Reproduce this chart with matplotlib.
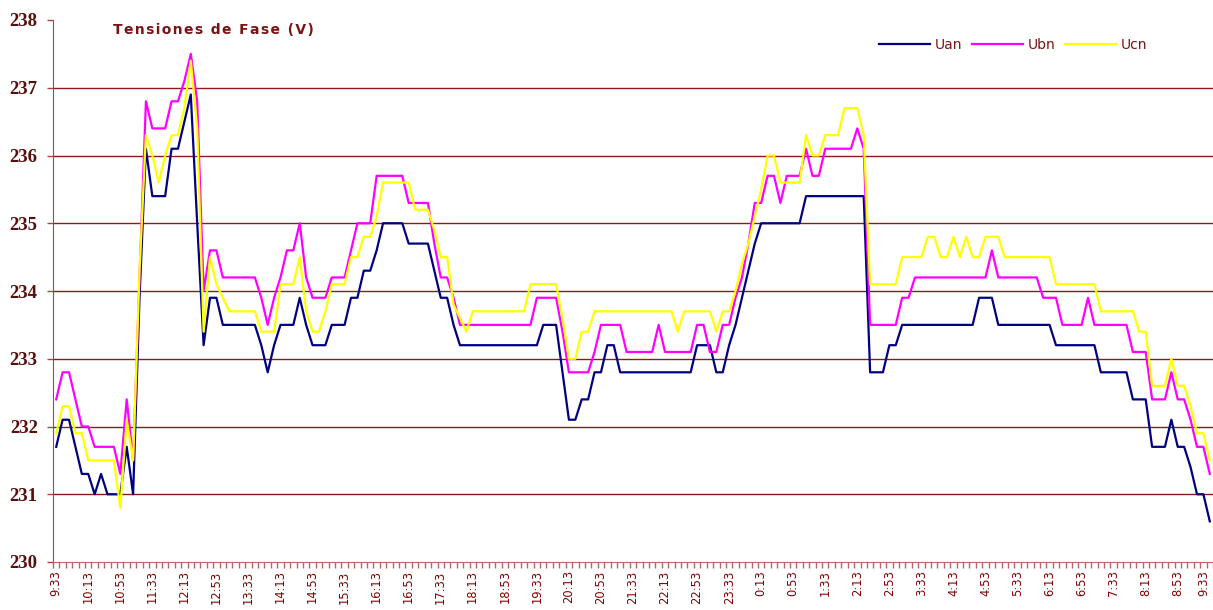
import matplotlib
matplotlib.use("Agg")
import matplotlib.pyplot as plt
import numpy as np

# time labels every 40 min (readings every 8 min -> 5 readings per label)
tick_labels = ["9:33", "10:13", "10:53", "11:33", "12:13", "12:53", "13:33", "14:13",
               "14:53", "15:33", "16:13", "16:53", "17:33", "18:13", "18:53", "19:33",
               "20:13", "20:53", "21:33", "22:13", "22:53", "23:33", "0:13", "0:53",
               "1:33", "2:13", "2:53", "3:33", "4:13", "4:53", "5:33", "6:13", "6:53",
               "7:33", "8:13", "8:53", "9:33"]

uan = [231.7, 232.1, 232.1, 231.7, 231.3, 231.3, 231.0, 231.3, 231.0, 231.0,
       231.0, 231.7, 231.0, 233.9, 236.1, 235.4, 235.4, 235.4, 236.1, 236.1,
       236.5, 236.9, 235.0, 233.2, 233.9, 233.9, 233.5, 233.5, 233.5, 233.5,
       233.5, 233.5, 233.2, 232.8, 233.2, 233.5, 233.5, 233.5, 233.9, 233.5,
       233.2, 233.2, 233.2, 233.5, 233.5, 233.5, 233.9, 233.9, 234.3, 234.3,
       234.6, 235.0, 235.0, 235.0, 235.0, 234.7, 234.7, 234.7, 234.7, 234.3,
       233.9, 233.9, 233.5, 233.2, 233.2, 233.2, 233.2, 233.2, 233.2, 233.2,
       233.2, 233.2, 233.2, 233.2, 233.2, 233.2, 233.5, 233.5, 233.5, 232.8,
       232.1, 232.1, 232.4, 232.4, 232.8, 232.8, 233.2, 233.2, 232.8, 232.8,
       232.8, 232.8, 232.8, 232.8, 232.8, 232.8, 232.8, 232.8, 232.8, 232.8,
       233.2, 233.2, 233.2, 232.8, 232.8, 233.2, 233.5, 233.9, 234.3, 234.7,
       235.0, 235.0, 235.0, 235.0, 235.0, 235.0, 235.0, 235.4, 235.4, 235.4,
       235.4, 235.4, 235.4, 235.4, 235.4, 235.4, 235.4, 232.8, 232.8, 232.8,
       233.2, 233.2, 233.5, 233.5, 233.5, 233.5, 233.5, 233.5, 233.5, 233.5,
       233.5, 233.5, 233.5, 233.5, 233.9, 233.9, 233.9, 233.5, 233.5, 233.5,
       233.5, 233.5, 233.5, 233.5, 233.5, 233.5, 233.2, 233.2, 233.2, 233.2,
       233.2, 233.2, 233.2, 232.8, 232.8, 232.8, 232.8, 232.8, 232.4, 232.4,
       232.4, 231.7, 231.7, 231.7, 232.1, 231.7, 231.7, 231.4, 231.0, 231.0,
       230.6]

ubn = [232.4, 232.8, 232.8, 232.4, 232.0, 232.0, 231.7, 231.7, 231.7, 231.7,
       231.3, 232.4, 231.5, 234.2, 236.8, 236.4, 236.4, 236.4, 236.8, 236.8,
       237.1, 237.5, 236.8, 234.0, 234.6, 234.6, 234.2, 234.2, 234.2, 234.2,
       234.2, 234.2, 233.9, 233.5, 233.9, 234.2, 234.6, 234.6, 235.0, 234.2,
       233.9, 233.9, 233.9, 234.2, 234.2, 234.2, 234.6, 235.0, 235.0, 235.0,
       235.7, 235.7, 235.7, 235.7, 235.7, 235.3, 235.3, 235.3, 235.3, 234.7,
       234.2, 234.2, 233.9, 233.5, 233.5, 233.5, 233.5, 233.5, 233.5, 233.5,
       233.5, 233.5, 233.5, 233.5, 233.5, 233.9, 233.9, 233.9, 233.9, 233.4,
       232.8, 232.8, 232.8, 232.8, 233.1, 233.5, 233.5, 233.5, 233.5, 233.1,
       233.1, 233.1, 233.1, 233.1, 233.5, 233.1, 233.1, 233.1, 233.1, 233.1,
       233.5, 233.5, 233.1, 233.1, 233.5, 233.5, 233.9, 234.2, 234.7, 235.3,
       235.3, 235.7, 235.7, 235.3, 235.7, 235.7, 235.7, 236.1, 235.7, 235.7,
       236.1, 236.1, 236.1, 236.1, 236.1, 236.4, 236.1, 233.5, 233.5, 233.5,
       233.5, 233.5, 233.9, 233.9, 234.2, 234.2, 234.2, 234.2, 234.2, 234.2,
       234.2, 234.2, 234.2, 234.2, 234.2, 234.2, 234.6, 234.2, 234.2, 234.2,
       234.2, 234.2, 234.2, 234.2, 233.9, 233.9, 233.9, 233.5, 233.5, 233.5,
       233.5, 233.9, 233.5, 233.5, 233.5, 233.5, 233.5, 233.5, 233.1, 233.1,
       233.1, 232.4, 232.4, 232.4, 232.8, 232.4, 232.4, 232.1, 231.7, 231.7,
       231.3]

ucn = [231.9, 232.3, 232.3, 231.9, 231.9, 231.5, 231.5, 231.5, 231.5, 231.5,
       230.8, 232.1, 231.5, 234.3, 236.3, 236.0, 235.6, 236.0, 236.3, 236.3,
       236.7, 237.4, 236.4, 233.4, 234.5, 234.1, 233.9, 233.7, 233.7, 233.7,
       233.7, 233.7, 233.4, 233.4, 233.4, 234.1, 234.1, 234.1, 234.5, 233.7,
       233.4, 233.4, 233.7, 234.1, 234.1, 234.1, 234.5, 234.5, 234.8, 234.8,
       235.1, 235.6, 235.6, 235.6, 235.6, 235.6, 235.2, 235.2, 235.2, 234.9,
       234.5, 234.5, 233.8, 233.6, 233.4, 233.7, 233.7, 233.7, 233.7, 233.7,
       233.7, 233.7, 233.7, 233.7, 234.1, 234.1, 234.1, 234.1, 234.1, 233.6,
       233.0, 233.0, 233.4, 233.4, 233.7, 233.7, 233.7, 233.7, 233.7, 233.7,
       233.7, 233.7, 233.7, 233.7, 233.7, 233.7, 233.7, 233.4, 233.7, 233.7,
       233.7, 233.7, 233.7, 233.4, 233.7, 233.7, 234.0, 234.4, 234.7, 235.1,
       235.5, 236.0, 236.0, 235.6, 235.6, 235.6, 235.6, 236.3, 236.0, 236.0,
       236.3, 236.3, 236.3, 236.7, 236.7, 236.7, 236.3, 234.1, 234.1, 234.1,
       234.1, 234.1, 234.5, 234.5, 234.5, 234.5, 234.8, 234.8, 234.5, 234.5,
       234.8, 234.5, 234.8, 234.5, 234.5, 234.8, 234.8, 234.8, 234.5, 234.5,
       234.5, 234.5, 234.5, 234.5, 234.5, 234.5, 234.1, 234.1, 234.1, 234.1,
       234.1, 234.1, 234.1, 233.7, 233.7, 233.7, 233.7, 233.7, 233.7, 233.4,
       233.4, 232.6, 232.6, 232.6, 233.0, 232.6, 232.6, 232.3, 231.9, 231.9,
       231.5]

dark_red = "#7a1414"
grid_red = "#8b1a1a"

fig = plt.figure(figsize=(12.13, 6.10), dpi=100)
ax = fig.add_axes([53 / 1213, 48 / 610, 1160 / 1213, 542 / 610])

x = np.arange(len(uan))
ax.plot(x, uan, color="#000080", lw=1.6, label="Uan")
ax.plot(x, ubn, color="#ff00ff", lw=1.6, label="Ubn")
ax.plot(x, ucn, color="#ffff00", lw=1.6, label="Ucn")

ax.set_xlim(-0.5, len(uan) - 0.5)
ax.set_ylim(230, 238)

for v in range(231, 238):
    ax.axhline(v, color=grid_red, lw=1, zorder=0)

ax.set_yticks(range(230, 239))
ax.set_yticklabels([str(v) for v in range(230, 239)], fontfamily="Liberation Serif",
                   fontweight="bold", fontsize=13.5, color="#5a0f0f")
ax.tick_params(axis="y", length=4, width=1, color="#9b4a4a", pad=7)

ax.set_xticks(np.arange(0, len(uan), 5))
xlabels = ax.set_xticklabels(tick_labels, rotation=90, fontsize=8.3, color="#800000",
                             va="top", ha="center")
xlabels[-1].set_ha("right")  # keep the last label inside the figure
ax.set_xticks(np.arange(-0.5, len(uan), 1), minor=True)
ax.tick_params(axis="x", which="major", length=0, pad=6)
ax.tick_params(axis="x", which="minor", length=4, width=1, color="#b06a6a")

for s in ["top", "right"]:
    ax.spines[s].set_visible(False)
ax.spines["left"].set_color("#9b4a4a")
ax.spines["bottom"].set_color("#b06a6a")

title = "\u200a".join("Tensiones de Fase (V)")
fig.text(113 / 1213, 1 - 30 / 610, title, fontsize=10,
         fontweight="bold", color=dark_red, va="center", ha="left")

leg = ax.legend(loc="center left", bbox_to_anchor=(879 / 1213, 1 - 45 / 610),
                bbox_transform=fig.transFigure, ncol=3, frameon=False,
                handlelength=3.7, handletextpad=0.3, columnspacing=0.7,
                borderpad=0, borderaxespad=0, fontsize=10)
for t in leg.get_texts():
    t.set_color(dark_red)

fig.savefig("out.png", dpi=100)
